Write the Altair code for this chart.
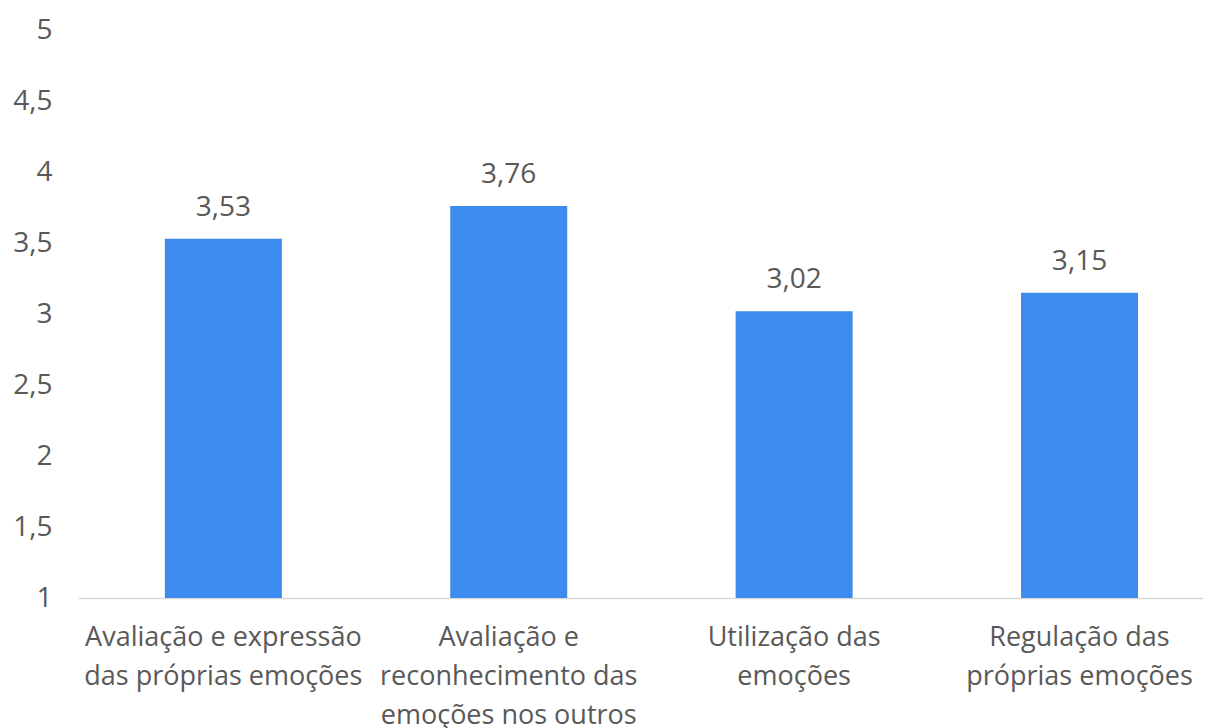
import altair as alt
import pandas as pd

categories = [
    "Avaliação e expressão\ndas próprias emoções",
    "Avaliação e\nreconhecimento das\nemoções nos outros",
    "Utilização das\nemoções",
    "Regulação das\npróprias emoções",
]
values = [3.53, 3.76, 3.02, 3.15]
value_labels = ["3,53", "3,76", "3,02", "3,15"]
y_ticks = [1, 1.5, 2, 2.5, 3, 3.5, 4, 4.5, 5]
y_base = 1

df = pd.DataFrame({"cat": categories, "val": values, "lbl": value_labels})

FONT = "Open Sans"
TXT = "#595959"

x_enc = alt.X(
    "cat:N",
    sort=categories,
    title=None,
    scale=alt.Scale(paddingInner=0.59, paddingOuter=0.266, align=0.572),
    axis=alt.Axis(
        labelAngle=0,
        labelExpr="split(datum.value, '\\n')",
        labelFont=FONT,
        labelFontSize=27,
        labelColor=TXT,
        labelLineHeight=39,
        labelBaseline="top",
        labelPadding=26,
        ticks=False,
        domainColor="#D9D9D9",
        domainWidth=1.5,
        grid=False,
        labelLimit=400,
    ),
)

y_enc = alt.Y(
    "val:Q",
    title=None,
    scale=alt.Scale(domain=[1, 5], nice=False, zero=False),
    axis=alt.Axis(
        values=y_ticks,
        labelExpr="replace(toString(datum.value), '.', ',')",
        labelFont=FONT,
        labelFontSize=28,
        labelColor=TXT,
        labelPadding=26,
        ticks=False,
        domain=False,
        grid=False,
        minExtent=70,
        maxExtent=70,
    ),
)

bars = alt.Chart(df).mark_bar(color="#3E8BEF").encode(
    x=x_enc, y=y_enc, y2=alt.datum(y_base)
)

texts = alt.Chart(df).mark_text(
    font=FONT, fontSize=28, color=TXT, baseline="alphabetic", dy=-23
).encode(x=alt.X("cat:N", sort=categories), y=alt.Y("val:Q"), text="lbl:N")

chart = (
    alt.layer(bars, texts)
    .properties(
        width=1125,
        height=568,
        padding={"left": 0, "top": 8, "right": 0, "bottom": 0},
        background="white",
    )
    .configure_view(stroke=None)
)

chart.save("out.html", embed_options={"renderer": "svg", "actions": False})
